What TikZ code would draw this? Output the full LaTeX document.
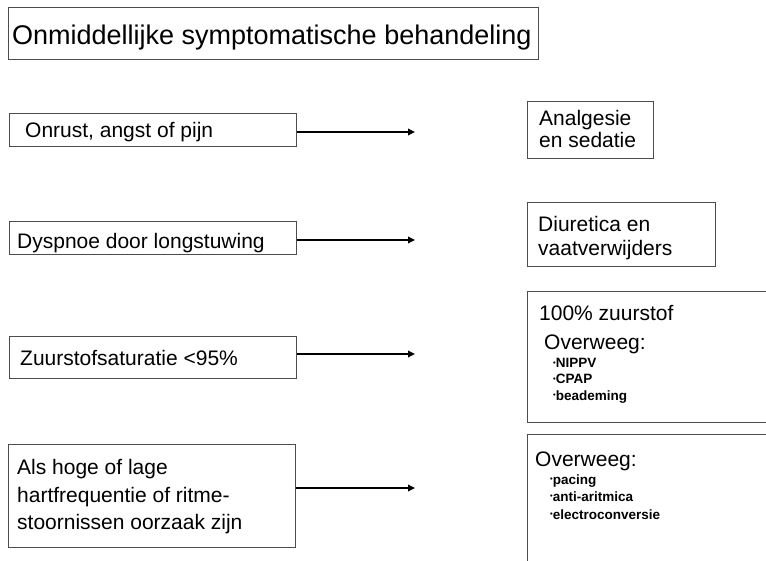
\documentclass[tikz,border=0pt]{standalone}
\usepackage{fontspec}
\setmainfont{Liberation Sans}
\usetikzlibrary{arrows.meta}
\newcommand{\mybul}{\raisebox{0.4ex}{\fontsize{7.5}{7.5}\selectfont •}}
\begin{document}
\begin{tikzpicture}[x=1pt,y=-1pt,
  boxst/.style={draw=black!70, line width=0.9pt, rectangle, inner sep=0pt, anchor=north west},
  txt/.style={inner sep=0pt, anchor=base west, font=\fontsize{21}{22}\selectfont},
  ttl/.style={inner sep=0pt, anchor=base west, font=\fontsize{27}{28}\selectfont},
  bul/.style={inner sep=0pt, anchor=base west, font=\fontsize{13.5}{16}\selectfont\bfseries},
  arr/.style={line width=1.8pt, -{Triangle[length=7pt,width=6.5pt]}}]
\useasboundingbox (0,0) rectangle (766,561);
\clip (0,0) rectangle (766,561);
\fill[white] (0,0) rectangle (766,561);
% title
\node[boxst, minimum width=530pt, minimum height=52pt] (title) at (8,7) {};
\node[ttl] (titletext) at (12,45) {Onmiddellijke symptomatische behandeling};
% left boxes
\node[boxst, minimum width=287pt, minimum height=33pt] (l1) at (9,113) {};
\node[txt] (l1t) at (25,138) {Onrust, angst of pijn};
\node[boxst, minimum width=287pt, minimum height=33pt] (l2) at (9,221) {};
\node[txt] (l2t) at (17,249) {Dyspnoe door longstuwing};
\node[boxst, minimum width=287pt, minimum height=42pt] (l3) at (9,336) {};
\node[txt] (l3t) at (20,366) {Zuurstofsaturatie <95\%};
\node[boxst, minimum width=287pt, minimum height=103pt] (l4) at (8,444) {};
\node[txt] (l4a) at (17,474) {Als hoge of lage};
\node[txt] (l4b) at (17,502) {hartfrequentie of ritme-};
\node[txt] (l4c) at (17,529) {stoornissen oorzaak zijn};
% right boxes
\node[boxst, minimum width=126pt, minimum height=57pt] (r1) at (527,101) {};
\node[txt] (r1a) at (539,126) {Analgesie};
\node[txt] (r1b) at (539,148) {en sedatie};
\node[boxst, minimum width=188pt, minimum height=64pt] (r2) at (527,202) {};
\node[txt] (r2a) at (538,232) {Diuretica en};
\node[txt] (r2b) at (538,256) {vaatverwijders};
\node[boxst, minimum width=300pt, minimum height=131pt] (r3) at (527,291) {};
\node[txt] (r3a) at (539,321) {100\% zuurstof};
\node[txt] (r3b) at (544,350) {Overweeg:};
\node[bul] (r3c) at (553,368) {\mybul NIPPV};
\node[bul] (r3d) at (553,384) {\mybul CPAP};
\node[bul] (r3e) at (553,400) {\mybul beademing};
\node[boxst, minimum width=300pt, minimum height=200pt] (r4) at (527,434) {};
\node[txt] (r4a) at (535,466) {Overweeg:};
\node[bul] (r4b) at (550,484) {\mybul pacing};
\node[bul] (r4c) at (550,501) {\mybul anti-aritmica};
\node[bul] (r4d) at (550,519) {\mybul electroconversie};
% arrows
\coordinate (e1) at (415,132);
\coordinate (e2) at (415,240);
\coordinate (e3) at (415,354);
\coordinate (e4) at (415,488);
\draw[arr] (l1.east |- e1) -- (e1);
\draw[arr] (l2.east |- e2) -- (e2);
\draw[arr] (l3.east |- e3) -- (e3);
\draw[arr] (l4.east |- e4) -- (e4);
\end{tikzpicture}
\end{document}
